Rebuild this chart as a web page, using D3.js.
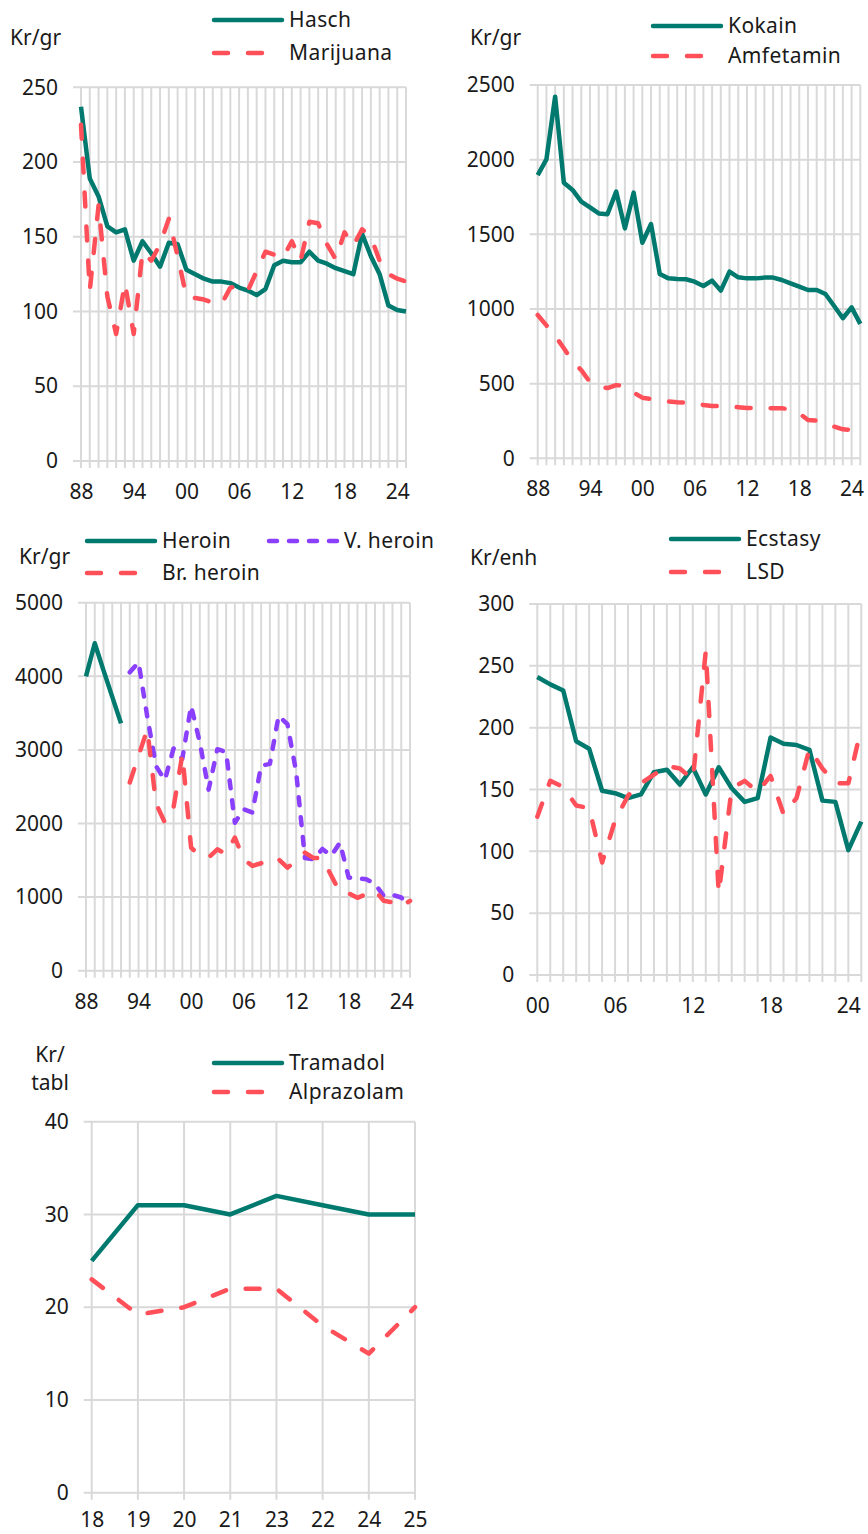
<!DOCTYPE html>
<html>
<head>
<meta charset="utf-8">
<script src="https://cdn.jsdelivr.net/npm/d3@7"></script>
<style>
  body { margin: 0; background: #fff; }
  svg text { font-family: "Noto Sans", sans-serif; fill: #1a1a1a; }
</style>
</head>
<body>
<div id="chart"></div>
<script>
// ---- data ----
const years = d3.range(1988, 2026).map(y => String(y).slice(2));      // 88 .. 25
const yearLabels = ['88', '94', '00', '06', '12', '18', '24'];
const years00 = d3.range(2000, 2026).map(y => String(y).slice(2));    // 00 .. 25
const year00Labels = ['00', '06', '12', '18', '24'];
const tabCats = ['18', '19', '20', '21', '23', '22', '24', '25'];

const hasch = [237, 189, 177, 157, 153, 155, 134, 147, 139, 130, 146, 145, 128, 125, 122, 120, 120, 119, 116, 114,
  111, 115, 131, 134, 133, 133, 140, 134, 132, 129, 127, 125, 152, 137, 125, 104, 101, 100];
const marijuana = [225, 114, 171, 110, 85, 119, 85, 140, 134, 145, 162, 137, 110, 109, 108, 106, 105, 116, 117, 114,
  127, 140, 138, 136, 147, 134, 160, 159, 145, 135, 153, 144, 155, 150, 134, 125, 122, 120];

const kokain = [1897, 2002, 2422, 1846, 1797, 1719, 1681, 1640, 1634, 1786, 1540, 1779, 1444, 1569, 1234, 1205, 1201,
  1199, 1183, 1154, 1190, 1123, 1250, 1212, 1205, 1205, 1210, 1210, 1194, 1172, 1150, 1127, 1127, 1100, 1020, 938, 1011, 900];
const amfetamin = [960, 890, 820, 737, 650, 590, 510, 480, 470, 490, 485, 440, 406, 397, 386, 380, 375, 373, 368, 357,
  350, 350, 348, 342, 337, 337, 337, 335, 335, 328, 301, 257, 252, 239, 212, 194, 190, 167];

const heroin = [4000, 4449, 4080, 3720, 3360, null, null, null, null, null, null, null, null, null, null, null, null,
  null, null, null, null, null, null, null, null, null, null, null, null, null, null, null, null, null, null, null, null, null];
const vHeroin = [null, null, null, null, null, 4054, 4190, 3450, 2780, 2590, 3020, 2880, 3600, 3100, 2460, 3010, 2970,
  2010, 2195, 2150, 2785, 2810, 3465, 3350, 2700, 1530, 1515, 1655, 1560, 1740, 1265, 1256, 1243, 1180, 1016, 1030, 995, 868];
const brHeroin = [null, null, null, null, null, 2558, 2920, 3280, 2270, 2014, 2220, 2940, 1673, 1560, 1537, 1650, 1585,
  1810, 1515, 1424, 1460, 1530, 1515, 1400, 1492, 1605, 1530, 1530, 1293, 1065, 1050, 990, 1040, 1093, 950, 930, 868, 950];

const ecstasy = [241, 235, 230, 189, 183, 149, 147, 143, 146, 164, 166, 154, 168, 146, 168, 151, 140, 143, 192, 187,
  186, 182, 141, 140, 101, 124];
const lsd = [128, 157, 152, 137, 135, 91, 125, 145, 155, 162, 169, 167, 158, 262, 66, 151, 157, 148, 161, 130, 143,
  183, 167, 155, 155, 200];

const tramadol = [25, 31, 31, 30, 32, 31, 30, 30];
const alprazolam = [23, 19.2, 20, 22, 22, 18, 15, 20];

// ---- styles ----
const TEAL = '#00796e';
const RED = '#ff505a';
const PURPLE = '#8a3ffc';
const GRID = '#d9d9d9';
const DASH = '14,20';
const DOT = '8,12';
const FS = 21;

const svg = d3.select('#chart').append('svg')
    .attr('width', 868)
    .attr('height', 1534);

function drawPanel(p) {
    const g = svg.append('g');
    const x = d3.scalePoint().domain(p.cats).range([p.x0, p.x1]);
    const y = d3.scaleLinear().domain([0, p.max]).range([p.y0, p.y1]);
    const yTicks = d3.range(0, p.max + 1, p.step);

    // horizontal gridlines (start a bit left of the first category, like the excel tick marks)
    g.append('g').selectAll('line').data(yTicks).join('line')
        .attr('x1', p.x0 - 8).attr('x2', p.x1)
        .attr('y1', d => y(d)).attr('y2', d => y(d))
        .attr('stroke', GRID).attr('stroke-width', 2);

    // vertical gridlines, one per category, sticking out below the zero line
    g.append('g').selectAll('line').data(p.cats).join('line')
        .attr('x1', d => x(d)).attr('x2', d => x(d))
        .attr('y1', p.y1).attr('y2', p.y0 + 7)
        .attr('stroke', GRID).attr('stroke-width', 2);

    // y axis labels
    g.append('g')
        .attr('transform', `translate(${p.x0 - 8},0)`)
        .call(d3.axisLeft(y).tickValues(yTicks).tickFormat(d3.format('d')).tickSize(0).tickPadding(15))
        .call(a => a.select('.domain').remove())
        .attr('font-family', null).attr('font-size', FS);

    // x axis labels
    g.append('g')
        .attr('transform', `translate(0,${p.y0})`)
        .call(d3.axisBottom(x).tickValues(p.xLabels).tickSize(0).tickPadding(p.xPad || 23))
        .call(a => a.select('.domain').remove())
        .attr('font-family', null).attr('font-size', FS);

    // series
    const line = d3.line()
        .defined(d => d != null)
        .x((d, i) => x(p.cats[i]))
        .y(d => y(d));

    p.series.forEach(s => {
        g.append('path')
            .datum(s.values)
            .attr('d', line)
            .attr('fill', 'none')
            .attr('stroke', s.color)
            .attr('stroke-width', 4.5)
            .attr('stroke-linejoin', 'round')
            .attr('stroke-linecap', s.dash ? 'round' : 'butt')
            .attr('stroke-dasharray', s.dash || null);
    });

    // legend
    p.series.forEach(s => {
        g.append('line')
            .attr('x1', s.lx).attr('x2', s.lx + 68)
            .attr('y1', s.ly).attr('y2', s.ly)
            .attr('stroke', s.color)
            .attr('stroke-width', 4.5)
            .attr('stroke-linecap', 'round')
            .attr('stroke-dasharray', s.dash || null);
        g.append('text')
            .attr('x', s.lx + 75).attr('y', s.ly + 7)
            .attr('font-size', FS)
            .attr('letter-spacing', 0.4)
            .text(s.name);
    });

    // unit label
    p.unit.forEach((u, i) => {
        g.append('text')
            .attr('x', p.unitX).attr('y', p.unitY + i * 28)
            .attr('text-anchor', p.unitAnchor || 'start')
            .attr('font-size', FS)
            .text(u);
    });
}

drawPanel({
    cats: years, xLabels: yearLabels, x0: 81, x1: 406, y0: 461, y1: 87.3, max: 250, step: 50,
    unit: ['Kr/gr'], unitX: 10, unitY: 45,
    series: [
        { name: 'Hasch', values: hasch, color: TEAL, lx: 214, ly: 20 },
        { name: 'Marijuana', values: marijuana, color: RED, dash: DASH, lx: 214, ly: 53 }
    ]
});

drawPanel({
    cats: years, xLabels: yearLabels, x0: 537.7, x1: 860.3, y0: 458.3, y1: 85, max: 2500, step: 500,
    unit: ['Kr/gr'], unitX: 470, unitY: 45,
    series: [
        { name: 'Kokain', values: kokain, color: TEAL, lx: 653, ly: 26 },
        { name: 'Amfetamin', values: amfetamin, color: RED, dash: DASH, lx: 653, ly: 56 }
    ]
});

drawPanel({
    cats: years, xLabels: yearLabels, x0: 86, x1: 410, y0: 970.7, y1: 602.7, max: 5000, step: 1000,
    unit: ['Kr/gr'], unitX: 19, unitY: 564,
    series: [
        { name: 'Heroin', values: heroin, color: TEAL, lx: 87, ly: 541 },
        { name: 'V. heroin', values: vHeroin, color: PURPLE, dash: DOT, lx: 269, ly: 541 },
        { name: 'Br. heroin', values: brHeroin, color: RED, dash: DASH, lx: 87, ly: 573 }
    ]
});

drawPanel({
    cats: years00, xLabels: year00Labels, x0: 537.3, x1: 861.3, y0: 975, y1: 604, max: 300, step: 50,
    unit: ['Kr/enh'], unitX: 470, unitY: 565,
    series: [
        { name: 'Ecstasy', values: ecstasy, color: TEAL, lx: 671, ly: 539 },
        { name: 'LSD', values: lsd, color: RED, dash: DASH, lx: 671, ly: 572 }
    ]
});

drawPanel({
    cats: tabCats, xLabels: tabCats, x0: 91.7, x1: 415, y0: 1492.7, y1: 1121.7, max: 40, step: 10, xPad: 19,
    unit: ['Kr/', 'tabl'], unitX: 50, unitY: 1062, unitAnchor: 'middle',
    series: [
        { name: 'Tramadol', values: tramadol, color: TEAL, lx: 214, ly: 1063 },
        { name: 'Alprazolam', values: alprazolam, color: RED, dash: DASH, lx: 214, ly: 1092 }
    ]
});
</script>
</body>
</html>
